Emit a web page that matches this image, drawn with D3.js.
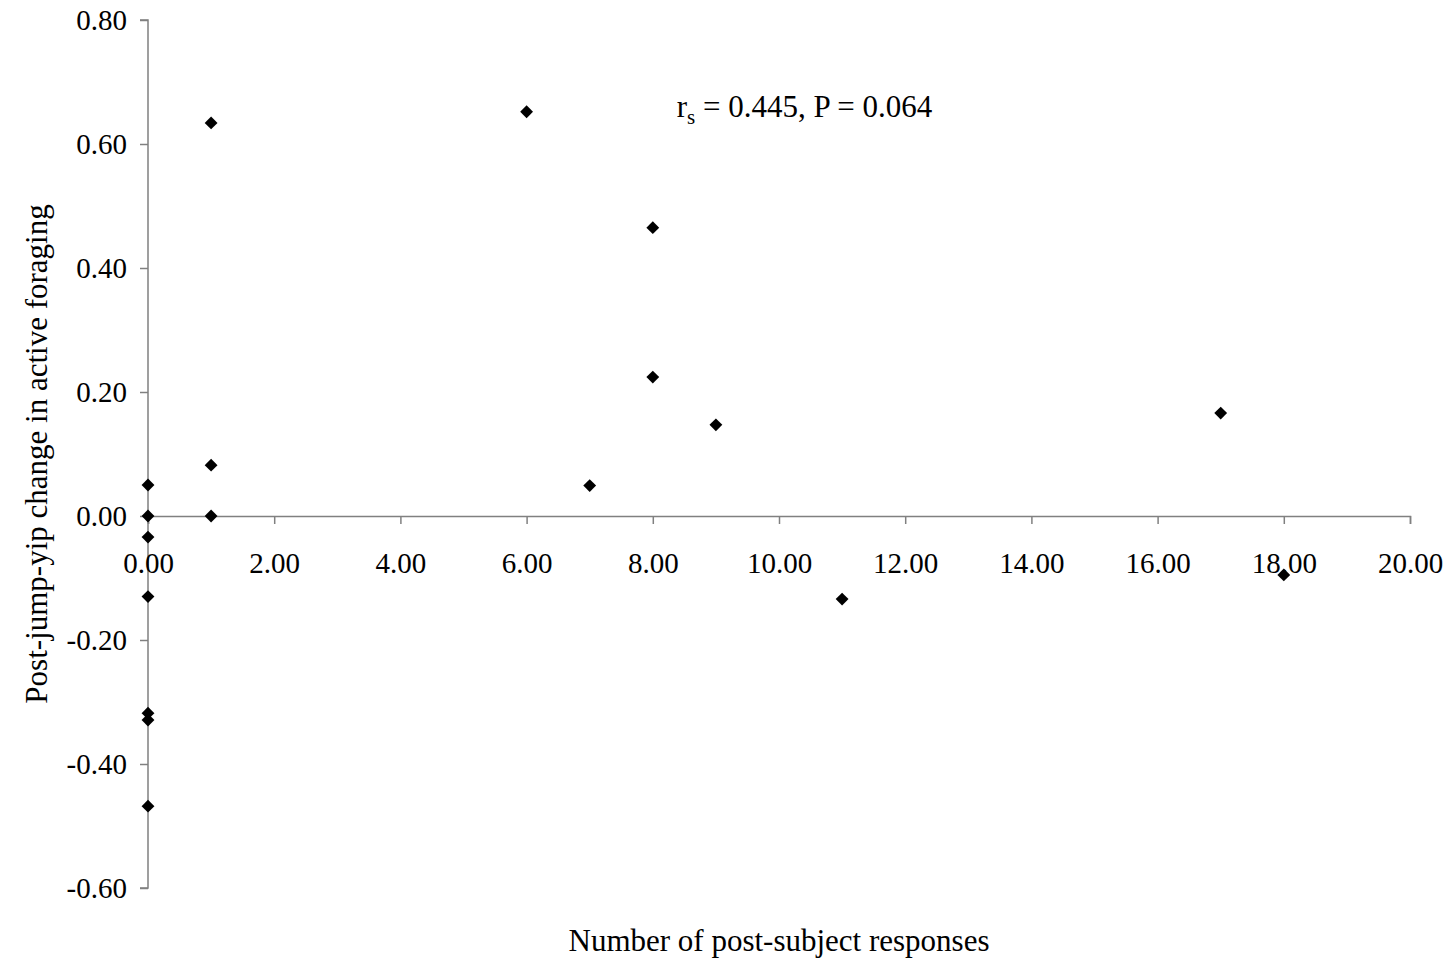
<!DOCTYPE html>
<html>
<head>
<meta charset="utf-8">
<script src="https://cdn.jsdelivr.net/npm/d3@7"></script>
<style>
  body { margin: 0; background: #fff; }
  text { font-family: "Liberation Serif", "Times New Roman", serif; }
</style>
</head>
<body>
<div id="chart"></div>
<script>
// Data
const responses = [0, 0, 0, 0, 0, 0, 0, 1, 1, 1, 6, 7, 8, 8, 9, 11, 17, 18];
const foragingChange = [0.05, 0.0, -0.034, -0.13, -0.318, -0.329, -0.468, 0.634, 0.082, 0.0,
                        0.652, 0.049, 0.465, 0.224, 0.147, -0.134, 0.166, -0.095];
const xTicks = [0, 2, 4, 6, 8, 10, 12, 14, 16, 18, 20];
const yTicks = [-0.6, -0.4, -0.2, 0, 0.2, 0.4, 0.6, 0.8];

const W = 1451, H = 961;
const margin = { top: 20, right: 41, bottom: 73, left: 148 };
const width = W - margin.left - margin.right;
const height = H - margin.top - margin.bottom;
const fmt = d => d3.format(".2f")(d).replace("\u2212", "-");

const svg = d3.select("#chart")
    .append("svg")
    .attr("width", W)
    .attr("height", H)
    .append("g")
    .attr("transform", `translate(${margin.left},${margin.top})`);

const x = d3.scaleLinear().domain([0, 20]).range([0, width]);
const y = d3.scaleLinear().domain([-0.6, 0.8]).range([height, 0]);

// Y axis (left edge)
const yAxis = svg.append("g")
    .call(d3.axisLeft(y).tickValues(yTicks).tickFormat(fmt).tickSize(8).tickPadding(13));
yAxis.select(".domain").attr("stroke", "#808080").attr("stroke-width", 1.5)
    .attr("d", `M-8,${y(0.8)}H0V${y(-0.6)}H-8`);
yAxis.selectAll(".tick line").attr("stroke", "#808080").attr("stroke-width", 1.5);
yAxis.selectAll(".tick text").attr("font-size", 29).attr("fill", "#000")
    .attr("font-family", "Liberation Serif, Times New Roman, serif");

// X axis crosses at y = 0
const xAxis = svg.append("g")
    .attr("transform", `translate(0,${y(0)})`)
    .call(d3.axisBottom(x).tickValues(xTicks).tickFormat(fmt).tickSize(8).tickSizeOuter(8).tickPadding(28));
xAxis.select(".domain").attr("stroke", "#808080").attr("stroke-width", 1.5);
xAxis.selectAll(".tick line").attr("stroke", "#808080").attr("stroke-width", 1.5);
xAxis.selectAll(".tick text").attr("font-size", 29).attr("fill", "#000")
    .attr("font-family", "Liberation Serif, Times New Roman, serif");

// Points (diamonds)
const diamond = d3.symbol().type(d3.symbolDiamond2).size(105);
svg.selectAll(".pt")
    .data(responses.map((r, i) => ({ r, v: foragingChange[i] })))
    .enter()
    .append("path")
    .attr("class", "pt")
    .attr("transform", d => `translate(${x(d.r)},${y(d.v)})`)
    .attr("d", diamond)
    .attr("fill", "#000");

// Annotation
const ann = svg.append("text")
    .attr("x", x(8.38))
    .attr("y", y(0.6435))
    .attr("font-size", 31)
    .attr("fill", "#000");
ann.append("tspan").text("r");
ann.append("tspan").attr("font-size", 21).attr("dy", 7).text("s");
ann.append("tspan").attr("dy", -7).text(" = 0.445, P = 0.064");

// Axis titles
svg.append("text")
    .attr("x", width / 2)
    .attr("y", height + 63)
    .attr("text-anchor", "middle")
    .attr("font-size", 31)
    .text("Number of post-subject responses");

svg.append("text")
    .attr("transform", `translate(${-112},${y(0.1)}) rotate(-90)`)
    .attr("text-anchor", "middle")
    .attr("dy", "0.35em")
    .attr("font-size", 31)
    .text("Post-jump-yip change in active foraging");
</script>
</body>
</html>
